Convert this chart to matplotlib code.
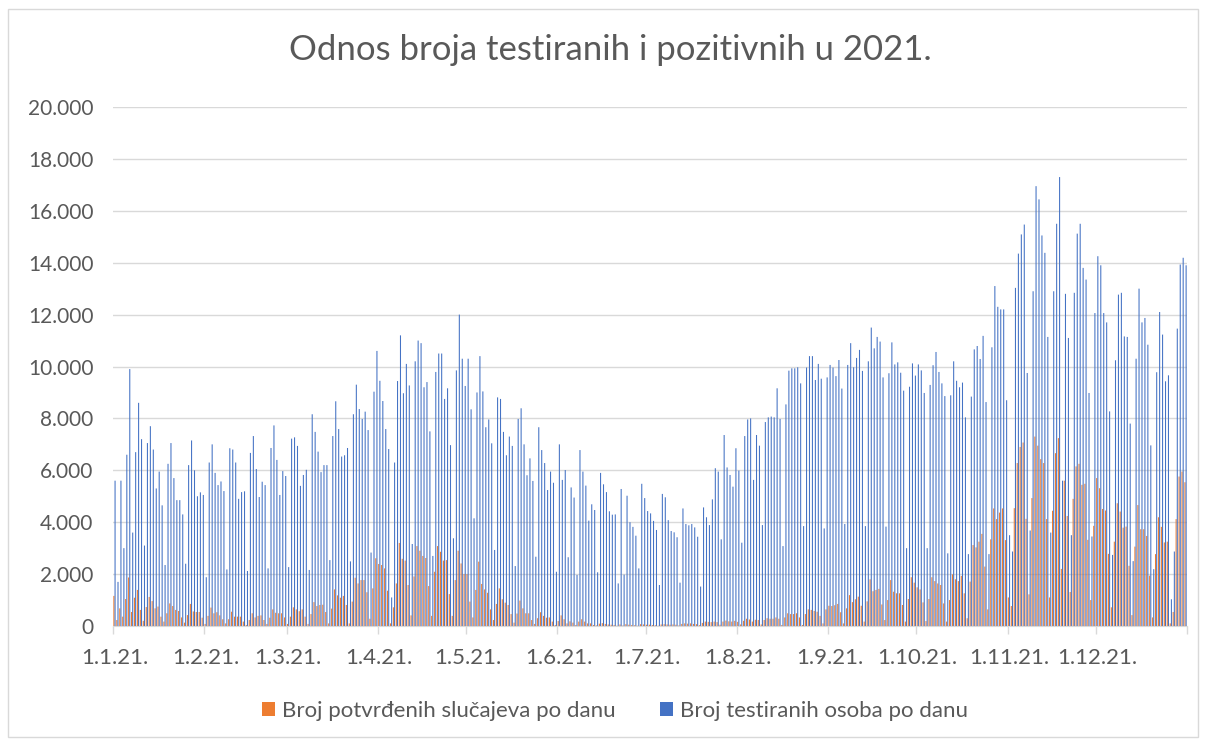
import numpy as np
import matplotlib
matplotlib.use("Agg")
from matplotlib import pyplot as plt
from matplotlib.patches import Rectangle
from matplotlib.ticker import FuncFormatter

plt.rcParams['font.family'] = ['Lato', 'DejaVu Sans']

title = "Odnos broja testiranih i pozitivnih u 2021."
label_cases = "Broj potvrđenih slučajeva po danu"
label_tests = "Broj testiranih osoba po danu"

month_labels = ["1.1.21.", "1.2.21.", "1.3.21.", "1.4.21.", "1.5.21.", "1.6.21.",
                "1.7.21.", "1.8.21.", "1.9.21.", "1.10.21.", "1.11.21.", "1.12.21."]
month_start = [0, 31, 59, 90, 120, 151, 181, 212, 243, 273, 304, 334]

# tested persons per day, one row per month
tests = [
    5600, 1700, 5600, 3000, 6600, 9900, 3600, 6700, 8600, 7200, 3100, 7050, 7700, 6800, 5300, 5950,
    4650, 2350, 6250, 7050, 5700, 4850, 4850, 4300, 2400, 6200, 7150, 6000, 5000, 5150, 5050,
    1880, 6300, 7000, 5900, 5430, 5570, 5200, 2180, 6850, 6800, 6300, 4900, 5160, 5190, 2120, 6670,
    7320, 6050, 4970, 5560, 5430, 2220, 6860, 7730, 6400, 5050, 5970, 5780,
    2270, 7220, 7270, 6940, 5400, 5820, 6020, 2160, 8160, 7480, 6720, 5930, 6200, 6200, 2540, 7320,
    8660, 7590, 6530, 6580, 6860, 2490, 8160, 9300, 8360, 7980, 8260, 7550, 2830, 9030, 10600,
    9450, 8670, 7590, 6820, 1100, 6300, 9440, 11200, 8970, 10100, 9270, 3160, 10200, 11000, 10900,
    9200, 9400, 7500, 2700, 9790, 10500, 10500, 8750, 9160, 6970, 3380, 9850, 12000, 10300, 9250,
    10300, 8350, 4150, 9000, 10400, 9040, 7660, 7960, 7040, 2930, 8810, 8750, 7480, 6580, 7300, 6940,
    2310, 7980, 8390, 7000, 5810, 6460, 5590, 2670, 7660, 6780, 6280, 5240, 5950, 5520, 2090,
    7000, 5630, 6010, 2650, 5340, 4950, 1970, 6780, 5950, 5410, 4060, 4690, 4470, 2070, 5900, 5460,
    5160, 4420, 4290, 4300, 1640, 5280, 1980, 5020, 4000, 3820, 3480, 2220, 5480, 4930,
    4430, 4340, 4050, 3700, 1580, 5090, 4960, 4080, 3660, 3610, 3420, 1670, 4530, 3930, 3880, 3930,
    3800, 3440, 1520, 4570, 4190, 3890, 4880, 6080, 5950, 3340, 7360, 6110, 5820, 5370, 6850,
    5990, 3210, 7320, 7960, 8000, 5630, 7360, 6950, 3890, 7860, 8040, 8070, 8040, 9160, 7980, 3080,
    8540, 9840, 9930, 9930, 9970, 9350, 3850, 9960, 10400, 10400, 9480, 10100, 9530, 3760, 9580,
    10060, 9960, 9630, 10250, 9150, 3930, 10060, 10900, 9970, 10330, 10640, 9830, 3850, 10200, 11500,
    10700, 11140, 10960, 9580, 3830, 9740, 10930, 10080, 10160, 9760, 9070, 3000, 9220, 10120, 9650,
    10080, 9850, 8980, 3000, 9290, 10050, 10560, 9790, 9350, 8860, 2800, 8890, 10200, 9450, 9200, 9380,
    8040, 2770, 8840, 10660, 10790, 10290, 11180, 8630, 2770, 10740, 13100, 12300, 12200, 12200, 8700,
    3500, 2870, 13030, 14350, 15090, 15470, 9750, 3680, 12900, 16950, 16440, 15050, 14380, 11140, 3600,
    12900, 15500, 17300, 5600, 12800, 11100, 3500, 12840, 15120, 15500, 13800, 13350, 8980, 3450, 12060,
    14250, 13900, 12060, 11700, 8270, 2740, 10240, 12770, 12840, 11160, 11140, 7800, 2500, 10300, 13000,
    11700, 11870, 10840, 6960, 2190, 9780, 12100, 11230, 9430, 9660, 1030, 2870, 11460, 13930, 14190, 13900,
]

# confirmed cases per day, one row per month
cases = [
    1160, 230, 680, 360, 1040, 1870, 540, 1090, 1390, 620, 200, 730, 1120, 960, 680, 750,
    360, 170, 490, 870, 770, 620, 580, 330, 130, 420, 850, 560, 540, 540, 320,
    80, 390, 710, 490, 530, 410, 260, 100, 260, 550, 360, 360, 360, 170, 40, 230,
    490, 330, 390, 410, 230, 80, 320, 640, 510, 490, 490, 330,
    80, 360, 720, 640, 570, 640, 360, 80, 460, 920, 770, 810, 820, 540, 100, 670,
    1410, 1180, 1090, 1160, 810, 100, 940, 1860, 1640, 1770, 1770, 1300, 280, 1450, 2610,
    2390, 2350, 2220, 1360, 100, 720, 1640, 3200, 2590, 2520, 1580, 410, 1910, 3080, 2900,
    2700, 2620, 1540, 390, 2090, 3080, 2860, 2520, 2540, 1230, 390, 1770, 2900, 2410, 2000,
    2000, 940, 330, 1390, 2480, 1620, 1410, 1280, 640, 230, 850, 1450, 1030, 900, 810, 460,
    130, 480, 980, 680, 490, 490, 230, 80, 300, 530, 390, 320, 330, 170, 40,
    190, 410, 260, 100, 180, 130, 40, 170, 260, 170, 100, 100, 40, 20, 90, 110,
    80, 60, 50, 40, 10, 60, 20, 70, 50, 40, 30, 10, 70, 60,
    50, 50, 40, 30, 10, 60, 70, 60, 50, 60, 50, 20, 80, 100, 90, 100,
    80, 70, 30, 120, 170, 160, 150, 170, 150, 50, 170, 210, 180, 170, 200,
    160, 60, 200, 280, 250, 170, 240, 230, 60, 230, 300, 280, 280, 330, 280, 40,
    330, 490, 460, 460, 490, 330, 40, 460, 640, 620, 580, 550, 390, 100, 640,
    780, 770, 800, 850, 530, 100, 680, 1190, 920, 1030, 1130, 780, 170, 950, 1800,
    1340, 1390, 1430, 830, 230, 1000, 1770, 1320, 1260, 1260, 810, 170, 1040, 1880, 1670,
    1490, 1410, 910, 190, 1040, 1880, 1730, 1640, 1580, 870, 170, 1000, 1990, 1800, 1730, 1930,
    1260, 300, 1710, 3120, 3030, 3250, 3550, 2290, 640, 3340, 4530, 4120, 4370, 4530, 3310,
    1100, 770, 4540, 6280, 6900, 7070, 4130, 1220, 4930, 7300, 6950, 6430, 6280, 4120, 1100,
    4440, 6660, 7240, 2200, 5600, 4240, 1310, 4900, 6150, 6250, 5440, 5480, 3320, 1000, 3860,
    5700, 5310, 4510, 4450, 2780, 720, 3250, 4730, 4410, 3790, 3830, 2320, 420, 3060, 4660,
    3730, 3730, 3470, 1940, 330, 2770, 4190, 3820, 3220, 3250, 100, 540, 4120, 5760, 5950, 5540,
]

days = np.arange(len(tests))

fig = plt.figure(figsize=(12.06, 7.42), dpi=100)
fig.patches.append(Rectangle((8 / 1206, 5 / 742), 1190 / 1206, 728 / 742, transform=fig.transFigure,
                             fill=False, edgecolor='#D9D9D9', linewidth=1))
ax = fig.add_axes([113 / 1206, 1 - 626 / 742, 1074 / 1206, 519 / 742])

w = 0.36
ax.bar(days - 0.2, cases, width=w, color='#ED7D31', label=label_cases, linewidth=0, snap=False)
ax.bar(days + 0.2, tests, width=w, color='#4472C4', label=label_tests, linewidth=0, snap=False)

ax.set_xlim(-0.5, len(days) - 0.5)
ax.set_ylim(0, 20000)
ax.set_yticks(np.arange(0, 20001, 2000))
ax.yaxis.set_major_formatter(FuncFormatter(lambda v, p: f"{int(v):,}".replace(",", ".")))
ax.set_xticks(month_start)
ax.set_xticklabels(month_labels)
ax.set_xticks([m - 0.5 for m in month_start] + [len(days) - 0.5], minor=True)
ax.tick_params(axis='x', which='major', length=0, pad=16, labelsize=16, labelcolor='#595959')
ax.tick_params(axis='x', which='minor', length=6, color='#D9D9D9', width=1)
ax.tick_params(axis='y', length=0, pad=14, labelsize=15, labelcolor='#595959')
ax.grid(axis='y', color='#D9D9D9', linewidth=1)
ax.set_axisbelow(True)
for s in ['top', 'right', 'left']:
    ax.spines[s].set_visible(False)
ax.spines['bottom'].set_color('#D9D9D9')

fig.text(0.506, 1 - 50 / 742, title, ha='center', va='center', fontsize=25, color='#595959')
fig.legend(loc='center', bbox_to_anchor=(0.51, 1 - 711 / 742), ncol=2, frameon=False,
           fontsize=16, labelcolor='#595959', handlelength=0.6, handleheight=0.6,
           handletextpad=0.3, columnspacing=2.0)

fig.savefig("out.png", dpi=100)
